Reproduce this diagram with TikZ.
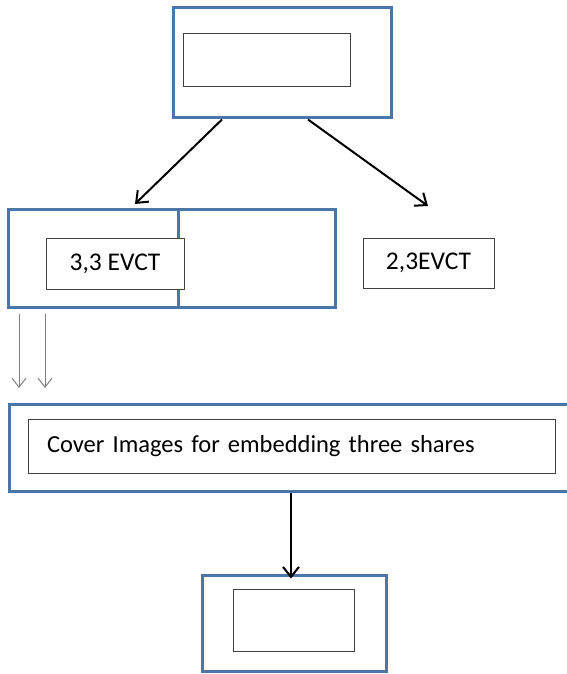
\documentclass[tikz,border=0pt]{standalone}
\usepackage{fontspec}
\setmainfont{Carlito}
\usetikzlibrary{arrows.meta,calc}
\definecolor{frameblue}{HTML}{4A76A8}
\definecolor{innergray}{HTML}{404040}
\tikzset{
  outerbox/.style={draw=frameblue, line width=3pt, minimum width=#1, inner sep=0pt},
  innerbox/.style={draw=innergray, line width=1pt, fill=white, inner sep=0pt, font=\fontsize{25.5}{30}\selectfont},
  mainarrow/.style={draw=black, line width=2pt, -{Straight Barb[length=10pt,width=16pt,line width=2pt]}},
  thinarrow/.style={draw=gray, line width=1pt, -{Straight Barb[length=9pt,width=14pt,line width=1pt]}},
}
\begin{document}
\begin{tikzpicture}[x=1pt,y=-1pt]
\useasboundingbox (0,0) rectangle (567,674);
% top stage
\node[outerbox=218pt, minimum height=110pt] (top) at (282,63) {};
\node[innerbox, minimum width=167pt, minimum height=53pt] (topin) at (266.5,60.5) {};
% split stage: two cells
\node[outerbox=170pt, minimum height=98pt] (cellL) at (93,258) {};
\node[outerbox=157pt, minimum height=98pt] (cellR) at (256.5,258) {};
\node[innerbox, minimum width=138pt, minimum height=51pt] (evctA) at (115,263.5) {3,3 EVCT};
\node[innerbox, minimum width=131pt, minimum height=50pt] (evctB) at (428.5,263) {2,3EVCT};
% cover images stage
\node[outerbox=564pt, minimum height=87pt] (cover) at (291,447.5) {};
\node[innerbox, font=\fontsize{24.5}{29}\selectfont, minimum width=527pt, minimum height=54pt, text width=489pt, align=left] (coverin) at (291.5,446) {Cover Images for embedding three shares};
% bottom stage
\node[outerbox=184pt, minimum height=96pt] (bottom) at (294,623) {};
\node[innerbox, minimum width=121pt, minimum height=62pt] (bottomin) at (293.5,620) {};
% connectors
\coordinate (tipL) at (135,204);
\coordinate (tipR) at (428,206);
\draw[mainarrow] ([xshift=-60pt]top.south) -- (tipL);
\draw[mainarrow] ([xshift=26pt]top.south) -- (tipR);
\coordinate (g1) at (19,388);
\coordinate (g2) at (45,388);
\draw[thinarrow] ([xshift=-74pt,yshift=-5pt]cellL.south) -- (g1);
\draw[thinarrow] ([xshift=-48pt,yshift=-5pt]cellL.south) -- (g2);
\draw[mainarrow] (cover.south) -- ([xshift=-3pt,yshift=-5pt]bottom.north);
\end{tikzpicture}
\end{document}
